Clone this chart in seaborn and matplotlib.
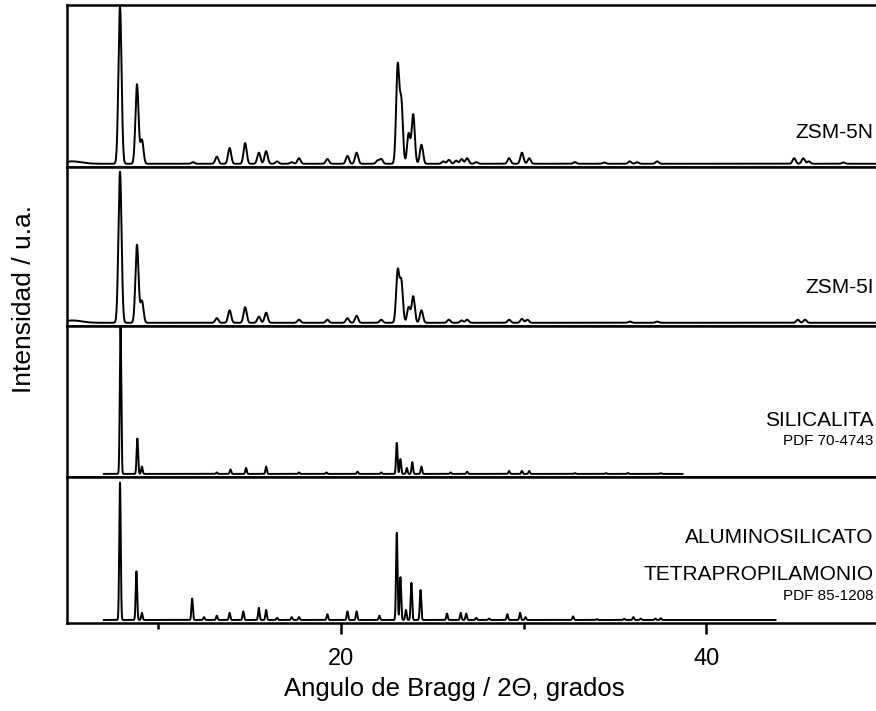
import numpy as np
import pandas as pd
import seaborn as sns
import matplotlib.pyplot as plt
from matplotlib.ticker import MultipleLocator

# patrones de difraccion (posicion 2theta, altura relativa)
zsm5n_pos = [5.3, 7.9, 8.83, 9.1, 11.9, 13.2, 13.9, 14.75, 15.5, 15.9, 16.5, 17.3, 17.7,
             19.25, 20.35, 20.85, 22.0, 22.2, 23.1, 23.3, 23.7, 23.95, 24.4, 25.6, 25.9,
             26.3, 26.6, 26.9, 27.4, 29.2, 29.9, 30.3, 32.8, 34.4, 35.8, 36.2, 37.3,
             44.8, 45.3, 45.6, 47.5]
zsm5n_int = [0.015, 0.99, 0.50, 0.15, 0.01, 0.045, 0.10, 0.13, 0.07, 0.08, 0.015, 0.01, 0.035,
             0.03, 0.05, 0.07, 0.02, 0.03, 0.61, 0.38, 0.19, 0.31, 0.12, 0.015, 0.025,
             0.02, 0.03, 0.035, 0.01, 0.035, 0.07, 0.035, 0.01, 0.008, 0.015, 0.01, 0.015,
             0.035, 0.035, 0.015, 0.008]

zsm5i_pos = [5.3, 7.9, 8.83, 9.1, 13.2, 13.9, 14.75, 15.5, 15.9, 17.7, 19.25, 20.35, 20.85,
             22.2, 23.1, 23.3, 23.7, 23.95, 24.4, 25.9, 26.6, 26.9, 29.2, 29.9, 30.2,
             35.8, 37.3, 45.0, 45.4]
zsm5i_int = [0.015, 0.97, 0.50, 0.14, 0.03, 0.08, 0.10, 0.04, 0.065, 0.02, 0.02, 0.03, 0.045,
             0.02, 0.33, 0.26, 0.10, 0.17, 0.08, 0.02, 0.015, 0.02, 0.02, 0.025, 0.02,
             0.008, 0.008, 0.02, 0.02]

silic_pos = [7.93, 8.85, 9.1, 13.2, 13.95, 14.8, 15.9, 17.7, 19.2, 20.9, 22.2, 23.05, 23.25,
             23.6, 23.9, 24.4, 26.0, 26.9, 29.2, 29.9, 30.3, 32.8, 34.5, 35.7, 37.5]
silic_int = [1.0, 0.24, 0.05, 0.01, 0.03, 0.04, 0.05, 0.01, 0.01, 0.015, 0.01, 0.21, 0.10,
             0.04, 0.08, 0.05, 0.01, 0.015, 0.02, 0.02, 0.02, 0.005, 0.005, 0.006, 0.005]

tpa_pos = [7.9, 8.8, 9.1, 11.85, 12.5, 13.2, 13.9, 14.65, 15.5, 15.9, 16.5, 17.3, 17.7,
           19.25, 20.35, 20.85, 22.1, 23.05, 23.25, 23.55, 23.85, 24.35, 25.8, 26.55,
           26.85, 27.4, 28.1, 29.1, 29.8, 30.1, 32.7, 34.0, 35.5, 36.0, 36.4, 37.2, 37.5]
tpa_int = [0.96, 0.34, 0.05, 0.15, 0.02, 0.03, 0.05, 0.06, 0.085, 0.07, 0.015, 0.02, 0.02,
           0.04, 0.06, 0.06, 0.03, 0.61, 0.30, 0.07, 0.26, 0.21, 0.045, 0.05,
           0.045, 0.015, 0.01, 0.04, 0.05, 0.02, 0.025, 0.006, 0.008, 0.02, 0.01, 0.01, 0.012]

muestras = ["ZSM-5N", "ZSM-5I", "SILICALITA", "ALUMINOSILICATO"]
fichas = [None, None, "PDF 70-4743", "PDF 85-1208"]
rangos = [(5.0, 50.0), (5.0, 50.0), (7.0, 38.7), (7.0, 43.8)]
anchos = [0.085, 0.085, 0.04, 0.04]
picos = [(zsm5n_pos, zsm5n_int), (zsm5i_pos, zsm5i_int),
         (silic_pos, silic_int), (tpa_pos, tpa_int)]


def perfil(pos, alt, rango, w):
    x = np.arange(rango[0], rango[1], 0.004)
    y = np.zeros_like(x)
    for p, h in zip(pos, alt):
        ww = 0.5 if p < 6 else w
        y += h * np.exp(-0.5 * ((x - p) / ww) ** 2)
    return pd.DataFrame({"2theta": x, "I": y})


sns.set_theme(style="ticks")
plt.rcParams["font.family"] = ["Liberation Sans", "DejaVu Sans"]
plt.rcParams["text.color"] = "black"
plt.rcParams["axes.labelcolor"] = "black"
plt.rcParams["xtick.color"] = "black"

fig, axes = plt.subplots(4, 1, figsize=(8.76, 7.11), dpi=100, sharex=True,
                         gridspec_kw=dict(height_ratios=[162, 159, 151, 146], hspace=0))
fig.subplots_adjust(left=0.0765, right=1.015, top=0.993, bottom=0.124)

nombre_y = [0.20, 0.225, 0.358, 0.573]
ficha_y = [None, None, 0.223, 0.168]

for i, ax in enumerate(axes):
    df = perfil(picos[i][0], picos[i][1], rangos[i], anchos[i])
    sns.lineplot(data=df, x="2theta", y="I", ax=ax, color="black", linewidth=1.4,
                 estimator=None, sort=False)
    ax.set_xlim(5, 50)
    ax.set_ylim(-0.02, 1.0)
    ax.set_yticks([])
    ax.set_ylabel("")
    ax.set_xlabel("")
    for s in ax.spines.values():
        s.set_linewidth(1.8)
        s.set_color("black")
    if i < 3:
        ax.tick_params(axis="x", which="both", bottom=False)
    ax.text(49.15, nombre_y[i], muestras[i], ha="right", va="center", fontsize=15)
    if fichas[i]:
        ax.text(49.15, ficha_y[i], fichas[i], ha="right", va="center", fontsize=11)

axes[3].text(49.15, 0.321, "TETRAPROPILAMONIO", ha="right", va="center", fontsize=15)

ax = axes[-1]
ax.xaxis.set_major_locator(MultipleLocator(20))
ax.xaxis.set_minor_locator(MultipleLocator(10))
ax.tick_params(axis="x", which="major", direction="out", length=8, width=1.8,
               labelsize=17, pad=10, color="black")
ax.tick_params(axis="x", which="minor", direction="out", length=4, width=1.8, color="black")
ax.set_xlabel("Angulo de Bragg / 2\u0398, grados", fontsize=18.5, labelpad=8)
ax.xaxis.set_label_coords(0.471, -0.37)
fig.text(0.027, 0.58, "Intensidad / u.a.", rotation=90, ha="center", va="center",
         fontsize=19)

plt.savefig("out.png", dpi=100)
